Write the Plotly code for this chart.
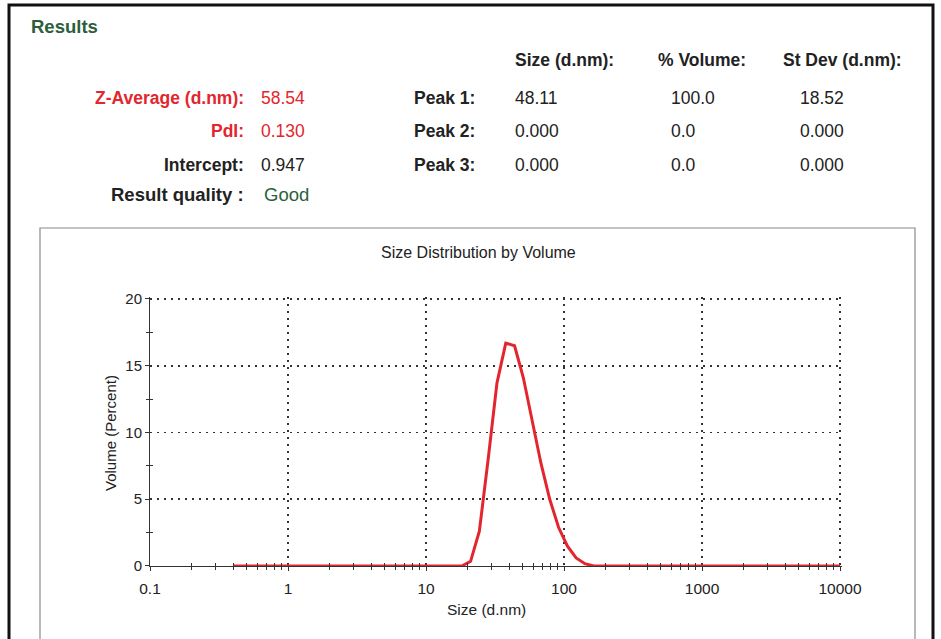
import plotly.graph_objects as go

W, H = 941, 639

# ---- data ----
size_nm = [0.4, 0.4632, 0.5365, 0.6213, 0.7195, 0.8332, 0.9649, 1.117, 1.294, 1.499,
           1.736, 2.01, 2.328, 2.696, 3.122, 3.615, 4.187, 4.849, 5.615, 6.503,
           7.531, 8.721, 10.1, 11.7, 13.54, 15.69, 18.17, 21.04, 24.36, 28.21,
           32.67, 37.84, 43.82, 50.75, 58.77, 68.06, 78.82, 91.28, 105.7, 122.4,
           141.8, 164.2, 190.1, 220.2, 255.0, 295.3, 342.0, 396.1, 458.7, 531.2,
           615.1, 712.4, 825.0, 955.4, 1106, 1281, 1484, 1718, 1990, 2305,
           2669, 3091, 3580, 4145, 4801, 5560, 6439, 7456, 8635, 10000]
volume_pct = [0, 0, 0, 0, 0, 0, 0, 0, 0, 0,
              0, 0, 0, 0, 0, 0, 0, 0, 0, 0,
              0, 0, 0, 0, 0, 0, 0, 0.35, 2.6, 8.0,
              13.7, 16.7, 16.5, 14.1, 10.9, 7.7, 5.0, 2.9, 1.5, 0.6,
              0.17, 0, 0, 0, 0, 0, 0, 0, 0, 0,
              0, 0, 0, 0, 0, 0, 0, 0, 0, 0,
              0, 0, 0, 0, 0, 0, 0, 0, 0, 0]

x_ticks = [0.1, 1, 10, 100, 1000, 10000]
y_ticks = [0, 5, 10, 15, 20]

summary_labels = ["Z-Average (d.nm):", "PdI:", "Intercept:"]
summary_values = ["58.54", "0.130", "0.947"]
quality_label = "Result quality :"
quality_value = "Good"
peak_names = ["Peak 1:", "Peak 2:", "Peak 3:"]
peak_cols = ["Size (d.nm):", "% Volume:", "St Dev (d.nm):"]
peak_size = ["48.11", "0.000", "0.000"]
peak_vol = ["100.0", "0.0", "0.0"]
peak_sd = ["18.52", "0.000", "0.000"]

FONT = "Liberation Sans, Arial, sans-serif"
RED = "#e3262d"
GREEN = "#2c5e3c"

def px(x):
    return x / W

def py(y):
    return 1 - y / H

fig = go.Figure()
fig.add_trace(go.Scatter(x=size_nm, y=volume_pct, mode="lines",
                         line=dict(color=RED, width=3), hoverinfo="skip",
                         showlegend=False))
# empty companion trace so overlay axes (cross ticks) get drawn
fig.add_trace(go.Scatter(x=[], y=[], xaxis="x2", yaxis="y2", showlegend=False))

# pixel frame of the plot: 0.1 at x=150, 10000 at x=840; 0 at y=566, 20 at y=299
X_LEFT, DEC_PX = 150, 138.0
Y_BOT, UNIT_PX = 566, (566 - 299) / 20.0
xr = [-1, 4.012]
yr = [0, 20.12]
xdom = [px(X_LEFT), px(X_LEFT + (xr[1] - xr[0]) * DEC_PX)]
ydom = [py(Y_BOT), py(Y_BOT - yr[1] * UNIT_PX)]

grid = dict(gridcolor="#333", gridwidth=1.6, griddash="1.6px,5.4px")

fig.update_layout(
    width=W, height=H,
    margin=dict(l=0, r=0, t=0, b=0, autoexpand=False),
    paper_bgcolor="white", plot_bgcolor="white",
    font=dict(family=FONT, color="#222"),
    showlegend=False,
    xaxis=dict(type="log", range=xr, domain=xdom, anchor="y", automargin=False,
               dtick=1, tick0=0, tickformat="~g",
               showgrid=True, **grid, zeroline=False,
               showline=True, linecolor="#333", linewidth=1,
               ticks="outside", ticklen=4, tickcolor="#333",
               minor=dict(ticks="outside", ticklen=3, tickcolor="#333", showgrid=False),
               tickfont=dict(size=15.5, color="#222"), ticklabelstandoff=4),
    yaxis=dict(range=yr, domain=ydom, anchor="x", automargin=False,
               dtick=5, tick0=0,
               showgrid=True, **grid, zeroline=False,
               showline=True, linecolor="#333", linewidth=1,
               ticks="outside", ticklen=4, tickcolor="#333",
               minor=dict(dtick=2.5, ticks="outside", ticklen=3, tickcolor="#333", showgrid=False),
               tickfont=dict(size=15, color="#222"), ticklabelstandoff=0),
    xaxis2=dict(type="log", range=xr, domain=xdom, anchor="y2", overlaying="x",
                automargin=False,
                dtick=1, tick0=0, showgrid=False, zeroline=False, showticklabels=False,
                ticks="", minor=dict(ticks="inside", ticklen=3, tickcolor="#333", showgrid=False)),
    yaxis2=dict(range=yr, domain=ydom, anchor="x2", overlaying="y", automargin=False,
                dtick=5, tick0=0, showgrid=False, zeroline=False, showticklabels=False,
                ticks="", minor=dict(dtick=2.5, ticks="inside", ticklen=3, tickcolor="#333", showgrid=False)),
)

shapes = []
# outer thick frame (open at bottom)
shapes.append(dict(type="path", xref="paper", yref="paper",
                   path=f"M {px(9)},{py(660)} L {px(9)},{py(5)} L {px(933)},{py(5)} L {px(933)},{py(660)}",
                   line=dict(color="#111", width=3)))
# chart box
shapes.append(dict(type="path", xref="paper", yref="paper",
                   path=f"M {px(40)},{py(660)} L {px(40)},{py(228)} L {px(915)},{py(228)} L {px(915)},{py(660)}",
                   line=dict(color="#8a8a8a", width=1.2)))
fig.update_layout(shapes=shapes)

ann = []
def text(x, y, s, size=17.5, color="#222", bold=False, xanchor="left", **kw):
    t = f"<b>{s}</b>" if bold else s
    ann.append(dict(x=px(x), y=py(y), xref="paper", yref="paper", text=t,
                    showarrow=False, xanchor=xanchor, yanchor="middle",
                    font=dict(family=FONT, size=size, color=color), **kw))

text(29, 26, "Results", size=18.5, color=GREEN, bold=True)

rows_y = [98, 131, 165]
label_colors = [RED, RED, "#222"]
for yy, lab, val, c in zip(rows_y, summary_labels, summary_values, label_colors):
    text(246, yy, lab, color=c, bold=True, xanchor="right")
    text(259, yy, val, color=c)
text(246, 195, quality_label, size=18.5, bold=True, xanchor="right")
text(262, 195, quality_value, size=18.5, color=GREEN)

col_x = [513, 656, 781]
for cx, lab in zip(col_x, peak_cols):
    text(cx, 60, lab, bold=True)
for yy, name, a, b, c in zip(rows_y, peak_names, peak_size, peak_vol, peak_sd):
    text(412, yy, name, bold=True)
    text(513, yy, a)
    text(669, yy, b)
    text(798, yy, c)

# chart titles
text(478, 253, "Size Distribution by Volume", size=16, xanchor="center")
text(486, 609, "Size (d.nm)", size=15.5, xanchor="center")
text(110, 433, "Volume (Percent)", size=15, xanchor="center", textangle=-90)

fig.update_layout(annotations=ann)

fig.write_html("out.html",
               config={"displayModeBar": False, "staticPlot": True},
               post_script="document.body.style.margin='0';document.body.style.overflow='hidden';")
